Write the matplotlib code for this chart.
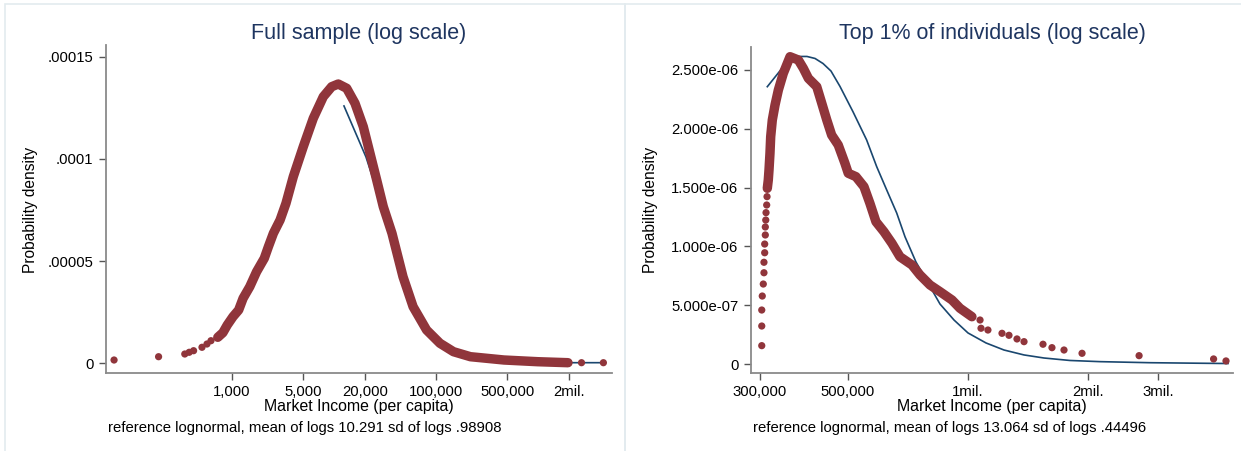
import matplotlib
matplotlib.use("Agg")
import matplotlib.pyplot as plt
from matplotlib.ticker import FixedLocator, FixedFormatter, NullLocator
from matplotlib.patches import Rectangle

W, H = 1241, 451

full_income = [69.8, 190.7, 344.6, 380.6, 420.3, 508, 568.6, 622.5, 725.8, 814.3,
               899.4, 1023, 1163, 1285, 1494, 1743, 2074, 2275, 2546, 2962,
               3384, 3990, 5000, 6267, 7857, 9495, 11020, 13320, 16070, 19380,
               22540, 26220, 30430, 37030, 47480, 59640, 80880, 109400, 148500, 217400,
               464200, 993000, 1968000, 2671000, 4377000]
full_density = [1.47e-6, 3.09e-6, 4.41e-6, 5.25e-6, 6.03e-6, 7.70e-6, 9.31e-6, 1.093e-5, 1.26e-5, 1.485e-5,
                1.863e-5, 2.27e-5, 2.598e-5, 3.172e-5, 3.74e-5, 4.475e-5, 5.132e-5, 5.701e-5, 6.358e-5, 7.01e-5,
                7.828e-5, 9.132e-5, 1.0603e-4, 1.1995e-4, 1.3054e-4, 1.3544e-4, 1.3676e-4, 1.3466e-4, 1.273e-4, 1.1583e-4,
                1.0279e-4, 8.971e-5, 7.662e-5, 6.358e-5, 4.23e-5, 2.76e-5, 1.618e-5, 9.66e-6, 5.54e-6, 3.09e-6,
                1.47e-6, 6.4e-7, 1.5e-7, 1.5e-7, 1.5e-7]
full_band = slice(8, 43)   # where the markers overlap into a solid band

# full sample: reference lognormal line (mostly hidden under the markers)
full_ref_income = [12530, 20590, 30430, 37030, 47480, 59640, 80880, 109400, 148500, 217400,
                   464200, 993000, 1968000, 2671000, 4377000]
full_ref_density = [1.26e-4, 1.01e-4, 7.5e-5, 6.2e-5, 4.23e-5, 2.76e-5, 1.618e-5, 9.66e-6, 5.54e-6, 3.09e-6,
                    1.2e-6, 5e-7, 1.5e-7, 1.5e-7, 1.5e-7]

# top 1%: empirical density
top_income = [303900, 303900, 303900, 304800, 306600, 307800, 307800, 309100, 309100, 310200,
              310200, 311000, 311500, 312700, 313300, 313800, 315600, 316900, 318700, 320000,
              323000, 328100, 334500, 344200, 357800, 375400, 386400, 397800, 417500, 429800,
              442400, 455000, 472700, 491300, 500800, 523500, 548300, 567600, 587700, 615400,
              644600, 675100, 723600, 757900, 802900, 850700, 911900, 954800, 1023000, 1072000,
              1078000, 1122000, 1217000, 1267000, 1327000, 1382000, 1542000, 1624000, 1741000, 1932000,
              2686000, 4130000, 4437000]
top_density = [1.56e-7, 3.23e-7, 4.59e-7, 5.78e-7, 6.80e-7, 7.76e-7, 8.65e-7, 9.46e-7, 1.020e-6, 1.097e-6,
               1.165e-6, 1.224e-6, 1.287e-6, 1.352e-6, 1.423e-6, 1.494e-6, 1.565e-6, 1.650e-6, 1.794e-6, 1.933e-6,
               2.075e-6, 2.202e-6, 2.330e-6, 2.472e-6, 2.613e-6, 2.585e-6, 2.514e-6, 2.429e-6, 2.358e-6, 2.217e-6,
               2.075e-6, 1.947e-6, 1.862e-6, 1.707e-6, 1.622e-6, 1.593e-6, 1.508e-6, 1.366e-6, 1.210e-6, 1.125e-6,
               1.026e-6, 9.12e-7, 8.42e-7, 7.57e-7, 6.72e-7, 6.15e-7, 5.44e-7, 4.74e-7, 4.02e-7, 3.74e-7,
               3.04e-7, 2.89e-7, 2.61e-7, 2.44e-7, 2.13e-7, 1.90e-7, 1.68e-7, 1.39e-7, 1.19e-7, 9.1e-8,
               7.1e-8, 4.3e-8, 2.6e-8]
top_band = slice(15, 49)

top_ref_income = [313800, 328100, 343600, 359800, 376800, 394600, 413400, 432900, 453300, 477500,
                  514700, 556900, 590200, 625300, 662500, 695000, 740500, 793800, 850700, 922400,
                  1000000, 1109500, 1231000, 1382000, 1551000, 1802000, 2144000, 2861000, 4488000]
top_ref_density = [2.358e-6, 2.440e-6, 2.525e-6, 2.585e-6, 2.615e-6, 2.615e-6, 2.598e-6, 2.555e-6, 2.491e-6, 2.36e-6,
                   2.145e-6, 1.905e-6, 1.678e-6, 1.480e-6, 1.284e-6, 1.082e-6, 8.67e-7, 6.89e-7, 5.10e-7, 3.74e-7,
                   2.64e-7, 1.79e-7, 1.19e-7, 7.7e-8, 5.1e-8, 3.0e-8, 2.0e-8, 1.1e-8, 4e-9]

full_xticks = [1000, 5000, 20000, 100000, 500000, 2000000]
full_xlabels = ["1,000", "5,000", "20,000", "100,000", "500,000", "2mil."]
full_yticks = [0, 0.00005, 0.0001, 0.00015]
full_ylabels = ["0", ".00005", ".0001", ".00015"]

top_xticks = [300000, 500000, 1000000, 2000000, 3000000]
top_xlabels = ["300,000", "500,000", "1mil.", "2mil.", "3mil."]
top_yticks = [0, 5e-7, 1e-6, 1.5e-6, 2e-6, 2.5e-6]
top_ylabels = ["0", "5.000e-07", "1.000e-06", "1.500e-06", "2.000e-06", "2.500e-06"]

RED = "#90353b"
BLUE = "#1a476f"
TITLE = "#1e3560"
AXIS = "#8a8a8a"
FRAME = "#e3ebef"

plt.rcParams["font.family"] = ["Liberation Sans", "DejaVu Sans"]

fig = plt.figure(figsize=(W / 100, H / 100), dpi=100)
fig.patch.set_facecolor("white")


def box(x0, y0, x1, y1):
    # pixel box (top-left origin) -> figure fraction rect
    return [x0 / W, 1 - y1 / H, (x1 - x0) / W, (y1 - y0) / H]


def ftext(x, y, s, **kw):
    fig.text(x / W, 1 - y / H, s, **kw)


# panel frames (graph regions of the two combined graphs)
for x0, x1 in [(5, 625), (625, 1260)]:
    fig.patches.append(Rectangle((x0 / W, -0.05), (x1 - x0) / W, 1.05 - 4 / H,
                                 transform=fig.transFigure, fill=False,
                                 edgecolor=FRAME, linewidth=1.2))


def panel(rect, income, density, band, ref_x, ref_y, xlim, ylim,
          xticks, xlabels, yticks, ylabels):
    ax = fig.add_axes(rect)
    ax.set_xscale("log")
    ax.plot(ref_x, ref_y, color=BLUE, lw=1.2, zorder=2)
    ax.plot(income[band], density[band], color=RED, lw=6.8,
            solid_capstyle="round", solid_joinstyle="round", zorder=3)
    ax.scatter(income, density, s=27, color=RED, edgecolors="none", zorder=4)
    ax.set_xlim(*xlim)
    ax.set_ylim(*ylim)
    ax.xaxis.set_major_locator(FixedLocator(xticks))
    ax.xaxis.set_major_formatter(FixedFormatter(xlabels))
    ax.xaxis.set_minor_locator(NullLocator())
    ax.yaxis.set_major_locator(FixedLocator(yticks))
    ax.yaxis.set_major_formatter(FixedFormatter(ylabels))
    for side in ["top", "right"]:
        ax.spines[side].set_visible(False)
    for side in ["left", "bottom"]:
        ax.spines[side].set_color(AXIS)
        ax.spines[side].set_linewidth(1.3)
    ax.tick_params(direction="out", length=5, width=1, color="#555555",
                   labelsize=10.7, labelcolor="black", pad=4)
    ax.patch.set_alpha(0)
    return ax


panel(box(106, 45, 612, 373), full_income, full_density, full_band,
      full_ref_income, full_ref_density, (58.2, 5.316e6), (-4.9e-6, 1.5588e-4),
      full_xticks, full_xlabels, full_yticks, full_ylabels)

panel(box(751, 47, 1233, 373), top_income, top_density, top_band,
      top_ref_income, top_ref_density, (285600, 4.62e6), (-7.65e-8, 2.6955e-6),
      top_xticks, top_xlabels, top_yticks, top_ylabels)

# titles, axis titles and notes
ftext(359, 33, "Full sample (log scale)", fontsize=15.5, color=TITLE, ha="center", va="center")
ftext(992, 33, "Top 1% of individuals (log scale)", fontsize=15.5, color=TITLE, ha="center", va="center")
for cx, lx, yl_x, note in [(359, 108, 30, "reference lognormal, mean of logs 10.291 sd of logs .98908"),
                           (992, 753, 651, "reference lognormal, mean of logs 13.064 sd of logs .44496")]:
    ftext(cx, 407, "Market Income (per capita)", fontsize=11.4, ha="center", va="center")
    ftext(lx, 428, note, fontsize=10.7, ha="left", va="center")
    ftext(yl_x, 210, "Probability density", fontsize=11.2, rotation=90, ha="center", va="center")

fig.savefig("out.png", dpi=100, facecolor="white")
